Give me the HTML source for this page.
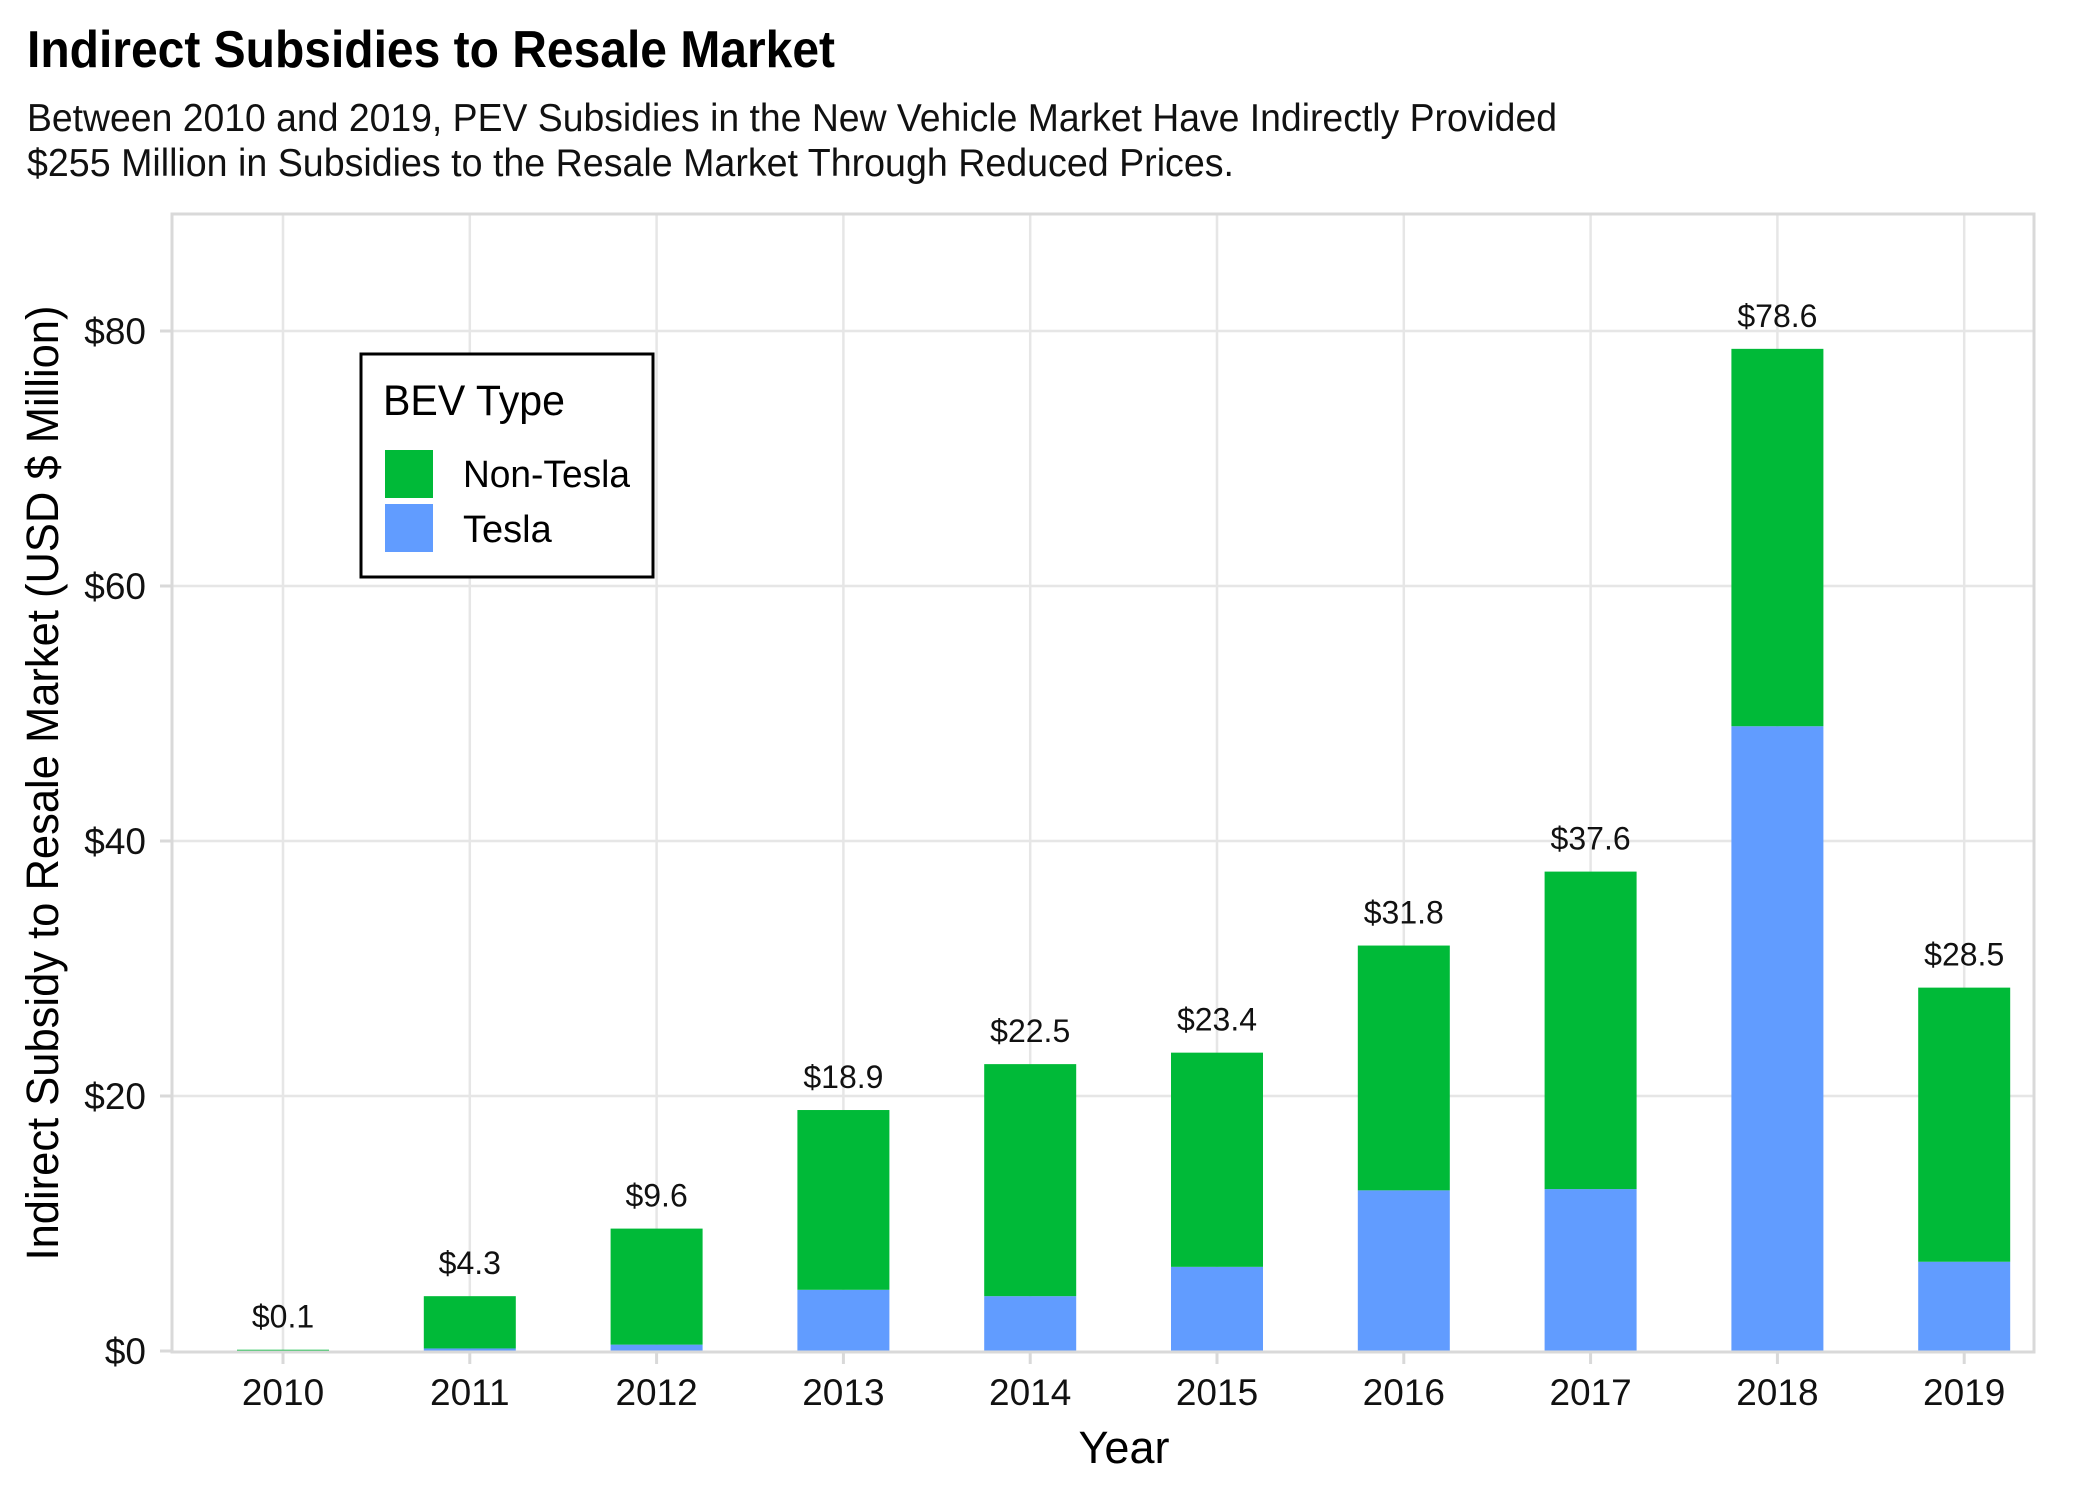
<!DOCTYPE html>
<html><head><meta charset="utf-8"><style>
html,body{margin:0;padding:0;background:#fff}
svg{display:block}
text{font-family:"Liberation Sans Narrow","Liberation Sans",sans-serif}
</style></head><body>
<svg id="chart" width="2100" height="1500" viewBox="0 0 2100 1500" xmlns="http://www.w3.org/2000/svg">
<text x="27" y="67" font-size="52" font-weight="bold" fill="#000" textLength="808" lengthAdjust="spacingAndGlyphs">Indirect Subsidies to Resale Market</text>
<text x="27" y="131" font-size="39" fill="#111" textLength="1530" lengthAdjust="spacingAndGlyphs">Between 2010 and 2019, PEV Subsidies in the New Vehicle Market Have Indirectly Provided</text>
<text x="27" y="176" font-size="39" fill="#111" textLength="1207" lengthAdjust="spacingAndGlyphs">$255 Million in Subsidies to the Resale Market Through Reduced Prices.</text>
<g id="grid"></g>
<g id="bars"></g>
<g id="labels"></g>
<rect x="172" y="214" width="1862" height="1138" fill="none" stroke="#d9d9d9" stroke-width="3"/>
<g id="axes"></g>
<text transform="translate(58,783) rotate(-90)" text-anchor="middle" font-size="45" fill="#000" textLength="955" lengthAdjust="spacingAndGlyphs">Indirect Subsidy to Resale Market (USD $ Million)</text>
<text x="1124" y="1463" text-anchor="middle" font-size="45" fill="#000">Year</text>
<g>
<rect x="361" y="354" width="292" height="223" fill="#fff" stroke="#000" stroke-width="3"/>
<text x="383" y="415" font-size="43" fill="#000" textLength="182" lengthAdjust="spacingAndGlyphs">BEV Type</text>
<rect x="385" y="450" width="48" height="48" fill="#00BA38"/>
<text x="463" y="487" font-size="38" fill="#000" textLength="167" lengthAdjust="spacingAndGlyphs">Non-Tesla</text>
<rect x="385" y="504" width="48" height="48" fill="#619CFF"/>
<text x="463" y="542" font-size="38" fill="#000">Tesla</text>
</g>
</svg>
<script>
const years = ["2010","2011","2012","2013","2014","2015","2016","2017","2018","2019"];
const totals = [0.1, 4.3, 9.6, 18.9, 22.5, 23.4, 31.8, 37.6, 78.6, 28.5];
const tesla = [0.0, 0.2, 0.5, 4.8, 4.3, 6.6, 12.6, 12.7, 49.0, 7.0];
const totalLabels = ["$0.1","$4.3","$9.6","$18.9","$22.5","$23.4","$31.8","$37.6","$78.6","$28.5"];
const yTicks = [0, 20, 40, 60, 80];
const yTickLabels = ["$0","$20","$40","$60","$80"];

const NS = "http://www.w3.org/2000/svg";
const y0 = 1351, pxPerUnit = 12.75;
const x0 = 283, step = 186.8, barW = 92;
function yScale(v){ return y0 - v * pxPerUnit; }
function xScale(i){ return x0 + i * step; }
function mk(tag, attrs, parent, txt){
  const e = document.createElementNS(NS, tag);
  for (const k in attrs) e.setAttribute(k, attrs[k]);
  if (txt !== undefined) e.textContent = txt;
  document.getElementById(parent).appendChild(e);
  return e;
}
yTicks.forEach((t, i) => {
  const yy = yScale(t);
  if (t > 0) {
    const g = mk("line", {x1:172, x2:2034, y1:yy, y2:yy, stroke:"#e6e6e6", "stroke-width":2.5}, "grid");
    
    
  }
  const tk = mk("line", {x1:160, x2:172, y1:yy, y2:yy, stroke:"#d9d9d9", "stroke-width":3}, "axes");
  
  
  const lb = mk("text", {x:146, y:yy + 13, "text-anchor":"end", "font-size":37, fill:"#111"}, "axes", yTickLabels[i]);
  
  
});
years.forEach((yr, i) => {
  const cx = xScale(i);
  const g = mk("line", {x1:cx, x2:cx, y1:214, y2:1352, stroke:"#e6e6e6", "stroke-width":2.5}, "grid");
  
  
  const tv = tesla[i], nv = totals[i] - tesla[i];
  const bt = mk("rect", {x:cx - barW/2, y:yScale(tv), width:barW, height:tv * pxPerUnit, fill:"#619CFF"}, "bars");
  
  
  const bn = mk("rect", {x:cx - barW/2, y:yScale(totals[i]), width:barW, height:Math.max(nv,0) * pxPerUnit, fill:"#00BA38"}, "bars");
  
  
  const vl = mk("text", {x:cx, y:yScale(totals[i]) - 22, "text-anchor":"middle", "font-size":32, fill:"#111", style:"font-family:'Liberation Sans',sans-serif"}, "labels", totalLabels[i]);
  
  
  const tk = mk("line", {x1:cx, x2:cx, y1:1352, y2:1364, stroke:"#d9d9d9", "stroke-width":3}, "axes");
  
  
  const xl = mk("text", {x:cx, y:1405, "text-anchor":"middle", "font-size":37, fill:"#111"}, "axes", yr);
  
  
});
</script>
</body></html>
